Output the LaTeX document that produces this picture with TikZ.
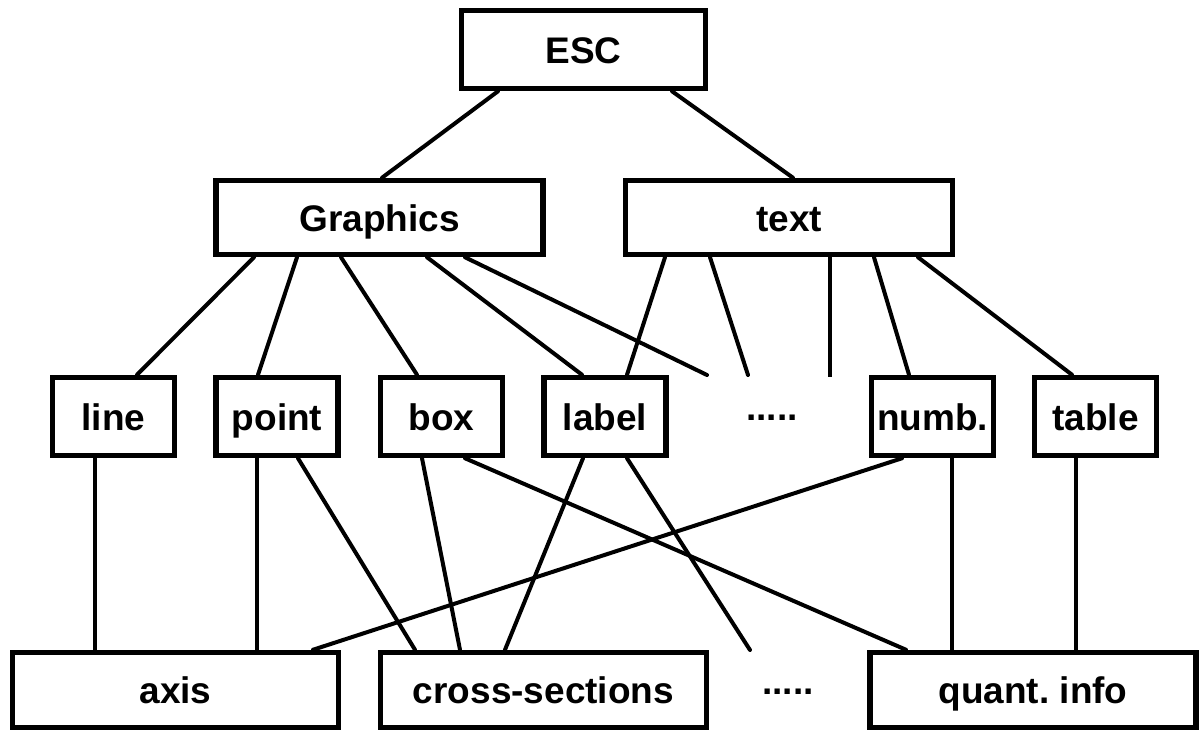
\documentclass[tikz,border=0pt]{standalone}
\usepackage{fontspec}
\setmainfont{Liberation Sans}

\begin{document}
\begin{tikzpicture}[x=1pt, y=-1pt,
    lbl/.style={inner sep=0pt, text height=27pt, text depth=0pt,
        font=\fontsize{37}{40}\selectfont\bfseries},
    block/.style={lbl, draw, rectangle, line width=5.5pt},
    escbox/.style={block, minimum width=244pt, minimum height=78pt},
    catbox/.style={block, minimum width=327pt, minimum height=74pt},
    itembox/.style={block, minimum width=122pt, minimum height=78pt},
    outbox/.style={block, minimum width=326pt, minimum height=75pt},
    link/.style={line width=4pt, line cap=round},
    stem/.style={line width=3.2pt}]
\useasboundingbox (0,0) rectangle (1199,732);

\node[escbox] (esc) at (583.5,49.5) {ESC};
\node[catbox] (gra) at (379.5,217.5) {Graphics};
\node[catbox] (txt) at (789,217.5) {text};

\node[itembox] (line) at (113.5,416.5) {line};
\node[itembox] (point) at (277,416.5) {point};
\node[itembox] (box) at (441.5,416.5) {box};
\node[itembox] (label) at (605,416.5) {label};
\node[lbl] (mdots) at (772,407) {.....};
\node[itembox] (numb) at (932.5,416.5) {numb.};
\node[itembox] (table) at (1095.5,416.5) {table};

\node[outbox] (axis) at (175.5,690) {axis};
\node[outbox] (cross) at (543.5,690) {cross-sections};
\node[lbl] (bdots) at (788,681) {.....};
\node[outbox] (quant) at (1033,690) {quant.\ info};

% loose ends
\coordinate (gend) at (707,375);
\coordinate (tend1) at (748,375);
\coordinate (tend2) at (830,377);
\coordinate (lend) at (750,650);

% top levels
\draw[link] ([xshift=-85.5pt]esc.south) -- ([xshift=2.5pt]gra.north);
\draw[link] ([xshift=88.5pt]esc.south) -- ([xshift=4pt]txt.north);

\draw[link] ([xshift=-125.5pt]gra.south) -- ([xshift=23.5pt]line.north);
\draw[link] ([xshift=-82.5pt]gra.south) -- ([xshift=-19pt]point.north);
\draw[link] ([xshift=-38.5pt]gra.south) -- ([xshift=-24.5pt]box.north);
\draw[link] ([xshift=47.5pt]gra.south) -- ([xshift=-23pt]label.north);
\draw[link] ([xshift=85.5pt]gra.south) -- (gend);

\draw[link] ([xshift=-124pt]txt.south) -- ([xshift=22pt]label.north);
\draw[link] ([xshift=-79pt]txt.south) -- (tend1);
\draw[stem] ([xshift=41pt]txt.south) -- (tend2);
\draw[link] ([xshift=85pt]txt.south) -- ([xshift=-23.5pt]numb.north);
\draw[link] ([xshift=129pt]txt.south) -- ([xshift=-23.5pt]table.north);

% bottom level
\draw[stem] ([xshift=-18.5pt]line.south) -- ([xshift=-80.5pt]axis.north);
\draw[stem] ([xshift=-20pt]point.south) -- ([xshift=81.5pt]axis.north);
\draw[link] ([xshift=21pt]point.south) -- ([xshift=-128.5pt]cross.north);
\draw[link] ([xshift=-19.5pt]box.south) -- ([xshift=-83.5pt]cross.north);
\draw[link] ([xshift=23.5pt]box.south) -- ([xshift=-127pt]quant.north);
\draw[link] ([xshift=-22pt]label.south) -- ([xshift=-38.5pt]cross.north);
\draw[link] ([xshift=22pt]label.south) -- (lend);
\draw[link] ([xshift=-30.5pt]numb.south) -- ([xshift=137.5pt]axis.north);
\draw[stem] ([xshift=19.5pt]numb.south) -- ([xshift=-81pt]quant.north);
\draw[stem] ([xshift=-19.5pt]table.south) -- ([xshift=43pt]quant.north);
\end{tikzpicture}
\end{document}
